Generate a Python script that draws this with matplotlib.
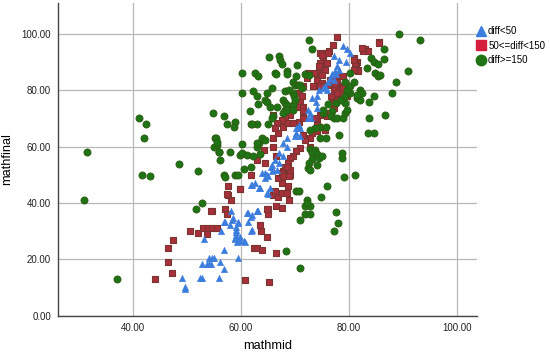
import matplotlib
matplotlib.use("Agg")
import matplotlib.pyplot as plt
from matplotlib.lines import Line2D

plt.rcParams['font.family'] = ['Liberation Sans', 'DejaVu Sans']

labels = ["diff<50", "50<=diff<150", "diff>=150"]
x_ticks = [40, 60, 80, 100]
y_ticks = [0, 20, 40, 60, 80, 100]

green = [
(65.3,91.9),(60.3,86.0),(62.6,86.0),(63.1,84.9),(66.3,86.0),(62.3,79.9),(60.2,79.0),(62.9,77.8),
(63.1,75.0),(64.8,79.0),(65.8,80.9),(64.5,76.6),(64.9,76.0),(65.4,74.2),(66.0,70.9),(41.2,70.0),
(42.4,68.0),(42.1,63.1),(54.9,71.9),(56.9,70.9),(57.5,68.0),(59.0,68.9),(58.8,66.9),(61.8,68.0),
(63.0,68.0),(65.0,68.0),(31.5,58.0),(55.2,63.1),(55.0,60.0),(55.6,60.5),(55.9,58.0),(58.0,58.0),
(60.2,61.0),(59.9,57.1),(60.3,57.9),(61.2,57.1),(62.9,60.0),(63.3,61.2),(63.9,63.0),(48.5,54.0),
(52.0,51.2),(60.5,52.1),(59.0,50.0),(59.5,50.0),(56.9,50.0),(41.7,50.1),(43.2,49.4),(31.0,41.1),
(37.1,13.1),(51.7,38.0),(52.7,40.0),(89.3,100.0),(93.3,97.9),(72.7,97.9),(73.2,94.8),(86.6,94.8),
(84.2,91.3),(84.7,90.2),(85.5,89.3),(86.6,91.1),(90.9,86.9),(83.4,88.0),(84.9,86.0),(85.4,84.9),
(85.8,85.4),(88.8,83.0),(88.0,79.0),(84.6,77.8),(83.8,76.0),(86.7,71.2),(83.8,70.1),(83.5,65.0),
(84.7,65.0),(67.0,92.0),(67.3,90.6),(67.6,89.4),(70.4,88.9),(68.5,86.9),(68.5,85.9),(66.6,85.9),
(70.2,84.9),(71.9,85.9),(72.6,85.5),(69.6,82.9),(70.0,81.7),(70.5,81.7),(71.0,81.7),(71.3,80.8),
(68.1,79.6),(69.0,80.2),(69.6,79.2),(69.9,77.8),(67.9,76.6),(68.2,75.4),(68.6,74.7),(68.2,73.1),
(68.6,73.1),(67.9,71.9),(66.7,74.0),(69.6,74.8),(69.6,73.1),(70.0,76.4),(76.2,75.3),(77.6,75.4),
(75.3,71.9),(75.2,73.1),(76.9,72.5),(76.8,70.7),(77.2,70.1),(77.8,70.1),(79.0,70.1),(79.3,71.9),
(79.6,73.1),(79.3,75.4),(78.5,76.6),(79.3,77.8),(80.3,79.0),(79.6,80.2),(80.3,81.4),(80.9,83.1),
(79.3,83.1),(80.3,86.1),(82.1,80.2),(82.4,79.0),(81.5,77.2),(82.1,76.6),(81.5,78.4),(74.7,67.1),
(75.8,67.1),(74.7,63.0),(75.8,63.0),(73.8,66.6),(72.8,66.0),(78.1,64.2),(72.8,59.2),(73.8,58.9),
(73.2,57.7),(74.1,57.4),(74.4,55.9),(73.2,55.6),(72.7,54.1),(72.4,52.4),(72.8,51.8),(74.1,53.5),
(75.0,56.5),(78.7,57.9),(78.7,55.9),(79.1,49.2),(81.1,50.1),(62.3,56.5),(63.6,57.4),(61.9,52.9),
(63.0,61.2),(64.5,62.4),(62.0,68.1),(65.7,70.1),(61.7,72.5),(75.9,46.1),(70.3,44.1),(70.8,44.1),
(74.8,42.1),(72.3,41.0),(71.9,39.1),(72.8,39.1),(72.3,39.9),(71.9,36.1),(72.8,36.1),(71.0,34.0),
(77.6,36.9),(78.0,33.0),(77.3,30.0),(68.4,23.1),(71.0,17.1),(56.1,55.1),(55.3,62.9),(55.6,61.5),
(56.0,58.2),(57.0,49.2),
]

blue = [
(49.7,10.1),(49.7,9.6),(49.1,13.3),(52.4,13.3),(52.7,13.3),(56.0,13.3),(52.7,18.3),(53.7,18.3),
(54.0,18.3),(54.4,18.3),(54.1,20.3),(55.1,20.3),(56.2,19.2),(56.9,16.5),(56.9,23.3),(59.5,20.3),
(53.1,27.1),(56.3,30.2),(57.0,33.4),(58.2,37.2),(58.5,34.5),(59.1,31.6),(59.1,30.5),(59.1,29.7),
(59.1,28.6),(59.1,27.6),(59.4,32.8),(59.0,27.1),(59.8,28.1),(59.9,26.4),(60.6,26.4),(61.1,36.4),
(61.9,35.2),(63.0,37.1),(61.9,30.2),(61.9,46.3),(63.4,45.3),(64.5,48.7),(65.1,43.2),(58.3,34.0),
(59.4,33.4),(54.6,20.4),(79.0,95.8),(79.6,94.6),(80.3,93.2),(77.2,92.3),(78.1,90.8),(79.5,90.1),
(77.9,88.5),(78.1,87.3),(77.5,86.7),(76.9,85.9),(77.7,85.9),(76.5,84.3),(77.2,83.7),(76.2,83.1),
(74.4,80.2),(75.3,80.8),(76.0,80.2),(75.6,81.6),(73.2,77.1),(74.1,77.8),(73.9,76.0),(72.5,73.1),
(72.8,71.9),(73.0,70.1),(72.5,70.1),(74.1,73.7),(70.7,67.7),(70.3,66.6),(71.0,66.6),(70.3,64.8),
(71.0,63.6),(70.0,63.6),(68.5,63.0),(67.9,61.2),(68.5,60.0),(67.1,57.7),(67.9,56.5),(66.3,55.3),
(67.0,54.1),(65.5,52.9),(66.0,51.8),(64.5,50.6),(65.1,49.4),(63.1,37.2),(62.0,35.8),(62.0,30.4),
(65.4,45.3),(64.8,43.5),(63.6,45.3),(65.7,51.2),(66.7,51.8),(62.6,47.0),(65.7,53.5),(64.8,50.0),
(63.9,50.6),(62.0,46.4),(61.4,36.4),(62.9,37.3),(61.4,33.4),(56.8,33.4),(58.0,32.2),(60.8,26.3),
(58.9,27.5),(59.2,26.3),
]

red = [
(44.0,13.1),(47.3,15.1),(46.4,19.1),(46.4,24.0),(47.4,27.0),(50.6,30.0),(52.1,29.3),(53.0,31.0),
(53.9,31.0),(54.6,37.1),(57.1,38.0),(57.5,36.1),(58.2,41.0),(57.6,43.0),(57.7,46.1),(59.8,45.1),
(61.8,50.0),(60.8,12.8),(62.4,24.0),(63.0,24.0),(64.0,23.3),(63.7,30.0),(64.8,28.1),(65.1,38.0),
(65.1,36.1),(66.0,43.0),(65.3,12.0),(66.6,22.2),(66.3,44.1),(66.8,42.1),(67.6,47.0),(68.7,46.1),
(69.0,41.1),(67.7,38.2),(66.5,39.1),(68.1,50.0),(69.1,50.0),(68.8,51.2),(70.6,44.1),(67.9,51.2),
(66.9,48.8),(77.9,98.9),(77.0,96.2),(85.6,97.0),(83.0,94.6),(83.6,93.8),(82.7,93.8),(76.4,94.1),
(75.6,93.2),(74.7,93.2),(75.3,91.4),(74.7,89.7),(74.4,88.5),(75.9,89.7),(80.9,91.4),(81.5,90.2),
(81.4,88.5),(81.8,87.3),(81.2,89.7),(73.8,86.1),(74.7,86.1),(74.1,83.7),(75.0,82.6),(73.4,81.4),
(78.1,84.9),(79.0,84.9),(77.9,83.1),(78.7,81.4),(78.4,80.2),(78.7,78.8),(79.6,77.8),(77.5,79.0),
(78.0,76.6),(76.7,77.8),(71.6,81.4),(70.7,79.0),(71.3,77.8),(71.0,76.0),(71.5,74.2),(70.4,74.2),
(69.4,73.1),(69.1,71.3),(68.2,70.1),(67.9,67.1),(68.8,68.3),(69.7,68.3),(70.7,68.9),(71.6,70.1),
(74.1,69.5),(74.7,71.3),(75.9,70.7),(76.5,71.9),(77.2,73.7),(76.9,75.5),(74.4,67.1),(74.1,65.4),
(75.6,66.0),(73.2,64.8),(72.8,63.0),(71.9,62.4),(72.8,60.0),(71.0,59.5),(70.3,58.3),(69.7,56.5),
(69.1,55.9),(68.8,54.1),(68.2,52.9),(69.1,51.8),(67.6,50.6),(67.9,49.4),(66.6,56.5),(66.0,60.0),
(66.0,63.0),(66.9,64.8),(64.2,58.9),(63.0,55.3),(64.5,54.1),(66.0,71.3),(67.6,69.5),(66.7,68.3),
(57.5,43.2),(59.9,45.0),(54.5,37.2),(54.6,31.0),(55.5,31.0),(64.8,37.9),(63.6,32.2),(67.6,43.5),
(68.6,43.5),(69.0,49.6),(68.5,52.9),(73.8,70.1),(74.2,67.7),(71.6,72.5),(71.6,64.2),(66.3,66.6),
(72.2,84.3),(72.5,86.1),(76.2,93.2),(75.0,92.6),(76.2,82.0),(74.7,81.6),(82.4,95.0),(85.7,96.8),
(80.9,90.8),(81.8,86.7),(80.9,87.3),(75.6,87.3),(75.0,85.5),(76.5,83.7),(77.2,84.9),(77.5,82.0),
(77.2,80.2),(77.8,79.0),(79.0,80.8),(53.8,29.0),
]

c_blue = "#3b7ddd"
c_red_face = "#a8303a"
c_red_edge = "#7a3530"
c_green = "#1e7414"
c_green_edge = "#2f5a12"

fig = plt.figure(figsize=(5.5, 3.53), dpi=100)
ax = fig.add_axes([0.1055, 0.1057, 0.762, 0.886])

ax.scatter([p[0] for p in red], [p[1] for p in red], marker="s", s=13,
           facecolor=c_red_face, edgecolor=c_red_edge, linewidths=0.8, zorder=3)
ax.scatter([p[0] for p in blue], [p[1] for p in blue], marker="^", s=22,
           facecolor=c_blue, edgecolor=c_blue, linewidths=0.3, zorder=4)
ax.scatter([p[0] for p in green], [p[1] for p in green], marker="o", s=26,
           facecolor=c_green, edgecolor=c_green_edge, linewidths=0.6, zorder=3)

ax.set_xlim(26.1, 103.8)
ax.set_ylim(0, 111)
ax.set_xticks(x_ticks)
ax.set_yticks(y_ticks)
ax.set_xticklabels([f"{v:.2f}" for v in x_ticks], fontsize=7)
ax.set_yticklabels([f"{v:.2f}" for v in y_ticks], fontsize=7)
ax.tick_params(length=0, pad=5, colors="#222222")
ax.grid(True, color="#b8b8b8", linewidth=0.9, zorder=0)
ax.set_axisbelow(True)
for s in ["top", "right"]:
    ax.spines[s].set_visible(False)
for s in ["left", "bottom"]:
    ax.spines[s].set_color("#444444")
    ax.spines[s].set_linewidth(1.0)

ax.set_xlabel("mathmid", fontsize=9.2, labelpad=5)
ax.set_ylabel("mathfinal", fontsize=9.2, labelpad=6)

handles = [
    Line2D([], [], marker="^", linestyle="none", markersize=7, color=c_blue),
    Line2D([], [], marker="s", linestyle="none", markersize=6.5, color="#d41e3c"),
    Line2D([], [], marker="o", linestyle="none", markersize=7.5, color=c_green),
]
fig.legend(handles, labels, loc="upper left", bbox_to_anchor=(0.868, 0.925),
           frameon=False, fontsize=7.0, handletextpad=0.3, labelspacing=0.45,
           handlelength=0.8, borderaxespad=0, borderpad=0)

fig.savefig("out.png", dpi=100, facecolor="white")
